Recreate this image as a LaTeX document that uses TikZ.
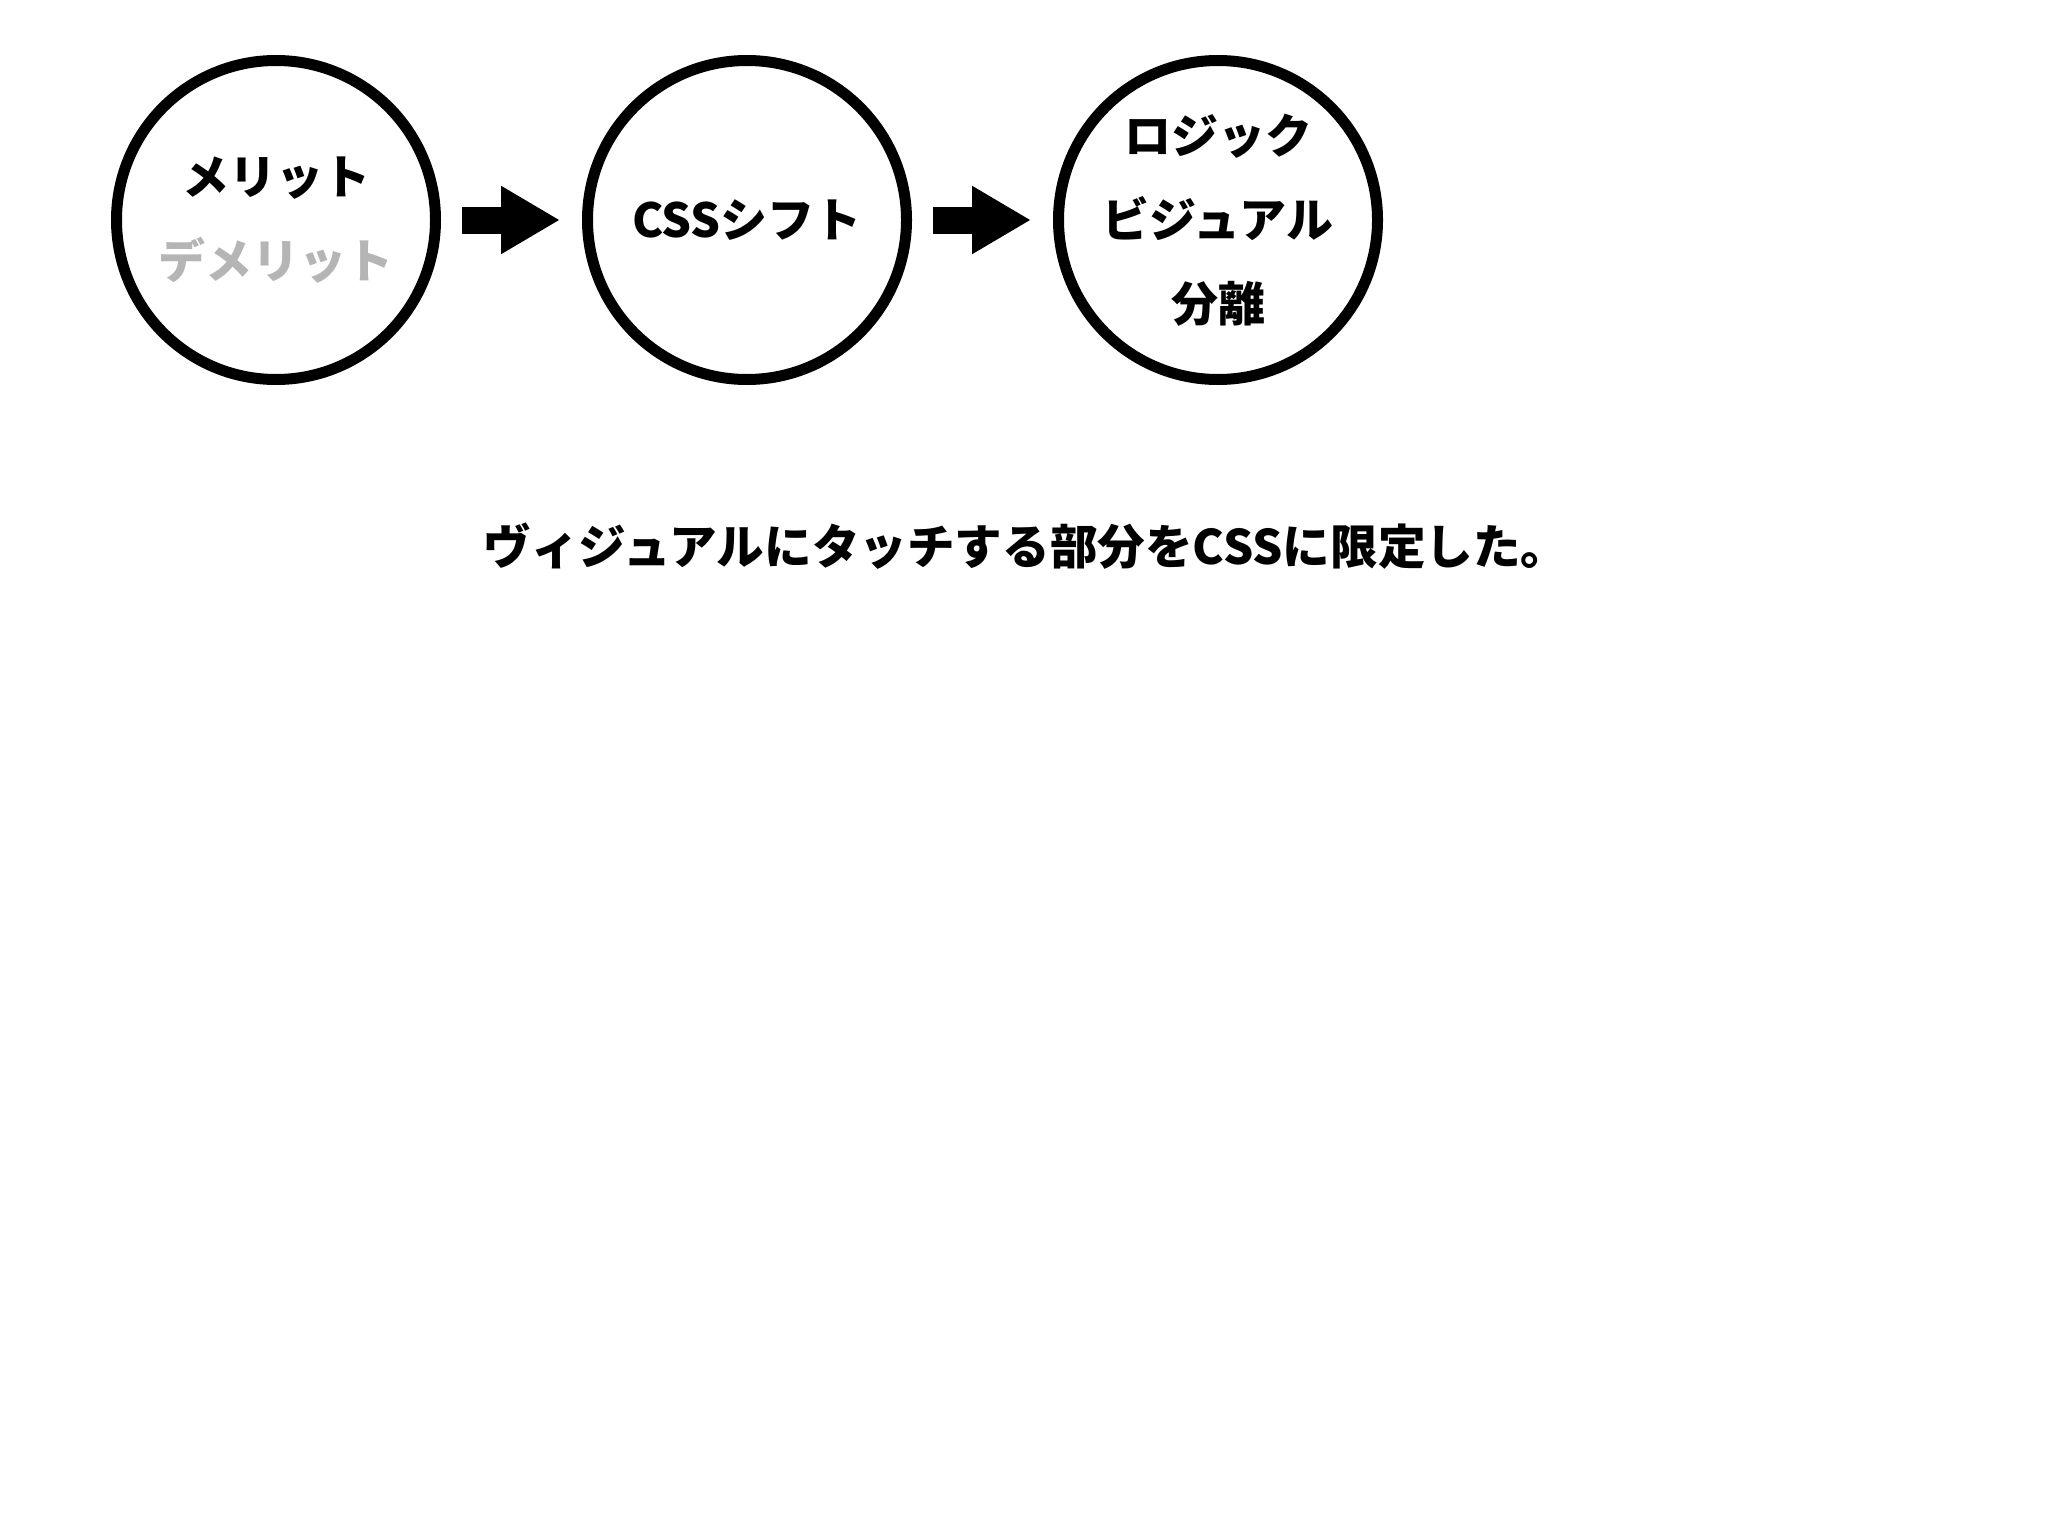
\documentclass[tikz,border=0pt]{standalone}
\usepackage{fontspec}
\setmainfont{Noto Sans CJK JP}
\usepackage{xcolor}
\usepackage{tikz}
\usetikzlibrary{arrows.meta}
\definecolor{demerit}{RGB}{181,181,181}
\tikzstyle{stage}=[circle, draw, line width=5.5pt, minimum size=159.5pt, inner sep=0pt, align=center, font=\bfseries\fontsize{23.5pt}{42pt}\selectfont]
\tikzstyle{flow}=[line width=13.5pt, -{Triangle[length=29.5pt, width=32pt]}, shorten <=10.5pt, shorten >=11pt]

\begin{document}
\begin{tikzpicture}[x=0.5pt, y=-0.5pt]
	\useasboundingbox (0,0) rectangle (2048,1536);
	\foreach \desc [count=\sc from 0] in {{メリット\\\textcolor{demerit}{デメリット}}, {CSSシフト}, {ロジック\\ビジュアル\\分離}}
		\node[stage] (s\sc) at ({276 + \sc*471}, 220) {\desc};
	\foreach \i/\j in {0/1, 1/2}
		\draw[flow] (s\i) -- (s\j);
	\node[font=\bfseries\fontsize{23.8pt}{28pt}\selectfont] (note) at (1026, 546) {ヴィジュアルにタッチする部分をCSSに限定した。};
\end{tikzpicture}
\end{document}
